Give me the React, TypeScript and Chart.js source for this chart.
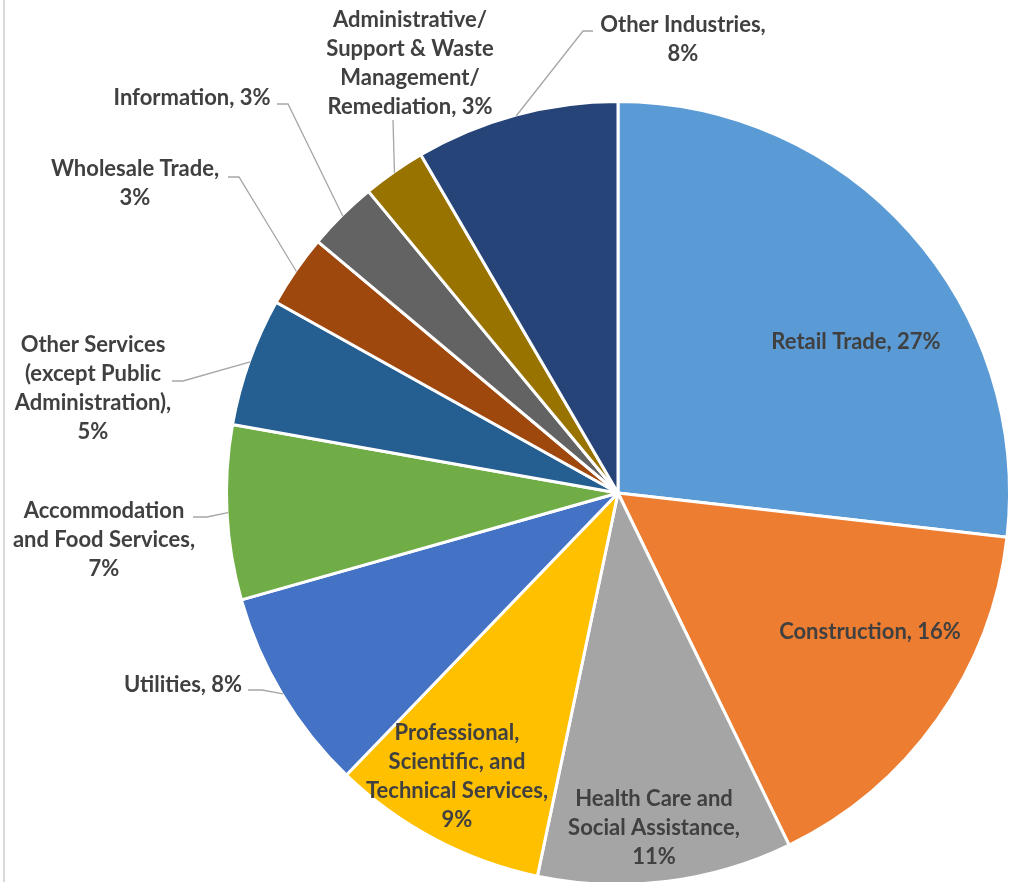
import React, { useEffect, useRef } from "react";
import { Chart, registerables } from "chart.js";

Chart.register(...registerables);

// ---- Data ----
const CATEGORIES = [
  "Retail Trade",
  "Construction",
  "Health Care and Social Assistance",
  "Professional, Scientific, and Technical Services",
  "Utilities",
  "Accommodation and Food Services",
  "Other Services (except Public Administration)",
  "Wholesale Trade",
  "Information",
  "Administrative/Support & Waste Management/Remediation",
  "Other Industries",
];

const VALUES = [26.8, 16.0, 10.5, 8.9, 8.4, 7.2, 5.3, 3.0, 2.9, 2.6, 8.4];

// label text, line by line; {p} = rounded percentage
const LABEL_LINES: string[][] = [
  ["Retail Trade, {p}"],
  ["Construction, {p}"],
  ["Health Care and", "Social Assistance,", "{p}"],
  ["Professional,", "Scientific, and", "Technical Services,", "{p}"],
  ["Utilities, {p}"],
  ["Accommodation", "and Food Services,", "{p}"],
  ["Other Services", "(except Public", "Administration),", "{p}"],
  ["Wholesale Trade,", "{p}"],
  ["Information, {p}"],
  ["Administrative/", "Support & Waste", "Management/", "Remediation, {p}"],
  ["Other Industries,", "{p}"],
];

const COLORS = [
  "#5b9bd5",
  "#ed7d31",
  "#a5a5a5",
  "#ffc000",
  "#4472c4",
  "#70ad47",
  "#255e91",
  "#9e480e",
  "#636363",
  "#997300",
  "#264478",
];

// ---- Label layout (offsets from pie centre, px at base radius) ----
const BASE_R = 391.5;
type Layout = { dx: number; dy: number; leader?: [number, number, number, number] };
const LABEL_LAYOUT: Layout[] = [
  { dx: 238, dy: -151 },
  { dx: 252, dy: 139 },
  { dx: 36, dy: 335 },
  { dx: -161, dy: 283.5 },
  { dx: -435, dy: 192, leader: [-370, 197, -356, 197] },
  { dx: -514, dy: 47, leader: [-425, 24, -411, 24] },
  { dx: -525, dy: -105, leader: [-446, -112, -435, -112] },
  { dx: -483, dy: -309.5, leader: [-390, -316, -379, -316] },
  { dx: -426, dy: -395, leader: [-341, -389, -330, -389] },
  { dx: -208, dy: -430, leader: [-225, -373, -225, -373] },
  { dx: 65, dy: -454, leader: [-25, -462, -35, -462] },
];

const FONT = "bold 22px Lato, 'Open Sans', sans-serif";
const LINE_H = 29;

const labelPlugin = {
  id: "sliceLabels",
  afterDatasetsDraw(chart: any) {
    const ctx = chart.ctx as CanvasRenderingContext2D;
    const meta = chart.getDatasetMeta(0);
    const total = VALUES.reduce((a, b) => a + b, 0);
    ctx.save();
    meta.data.forEach((arc: any, i: number) => {
      const p = arc.getProps(["x", "y", "startAngle", "endAngle", "outerRadius"], true);
      const s = p.outerRadius / BASE_R;
      const L = LABEL_LAYOUT[i];
      if (L.leader) {
        const mid = (p.startAngle + p.endAngle) / 2;
        const ex = p.x + Math.cos(mid) * (p.outerRadius - 1);
        const ey = p.y + Math.sin(mid) * (p.outerRadius - 1);
        ctx.beginPath();
        ctx.strokeStyle = "#a6a6a6";
        ctx.lineWidth = 1.3;
        ctx.moveTo(p.x + L.leader[0] * s, p.y + L.leader[1] * s);
        ctx.lineTo(p.x + L.leader[2] * s, p.y + L.leader[3] * s);
        ctx.lineTo(ex, ey);
        ctx.stroke();
      }
      const pct = Math.round((VALUES[i] * 100) / total + 1e-9);
      const lines = LABEL_LINES[i].map((t) => t.replace("{p}", pct + "%"));
      ctx.font = FONT;
      ctx.fillStyle = "#404040";
      ctx.textAlign = "center";
      ctx.textBaseline = "middle";
      const cx = p.x + L.dx * s;
      const cy = p.y + L.dy * s;
      lines.forEach((ln, j) => {
        ctx.fillText(ln, cx, cy + (j - (lines.length - 1) / 2) * LINE_H);
      });
    });
    ctx.restore();
  },
};

export default function App() {
  const ref = useRef<HTMLCanvasElement | null>(null);

  useEffect(() => {
    if (!ref.current) return;
    const chart = new Chart(ref.current, {
      type: "pie",
      data: {
        labels: CATEGORIES,
        datasets: [
          {
            data: VALUES,
            backgroundColor: COLORS,
            borderColor: "#ffffff",
            borderWidth: 3,
          },
        ],
      },
      options: {
        animation: false,
        responsive: true,
        maintainAspectRatio: false,
        layout: { padding: { left: 225, right: 9, top: 100, bottom: 14 } },
        plugins: {
          legend: { display: false },
          tooltip: { enabled: false },
        },
      },
      plugins: [labelPlugin],
    });
    return () => chart.destroy();
  }, []);

  return (
    <div
      style={{
        position: "fixed",
        left: 0,
        top: 0,
        width: 1010,
        height: 882,
        overflow: "hidden",
        background: "#ffffff",
      }}
    >
      <div
        style={{
          position: "absolute",
          left: 3,
          top: 0,
          width: 2,
          height: 882,
          background: "#d9d9d9",
        }}
      />
      <div style={{ position: "absolute", left: 0, top: 0, width: 1020, height: 900 }}>
        <canvas ref={ref} />
      </div>
    </div>
  );
}
